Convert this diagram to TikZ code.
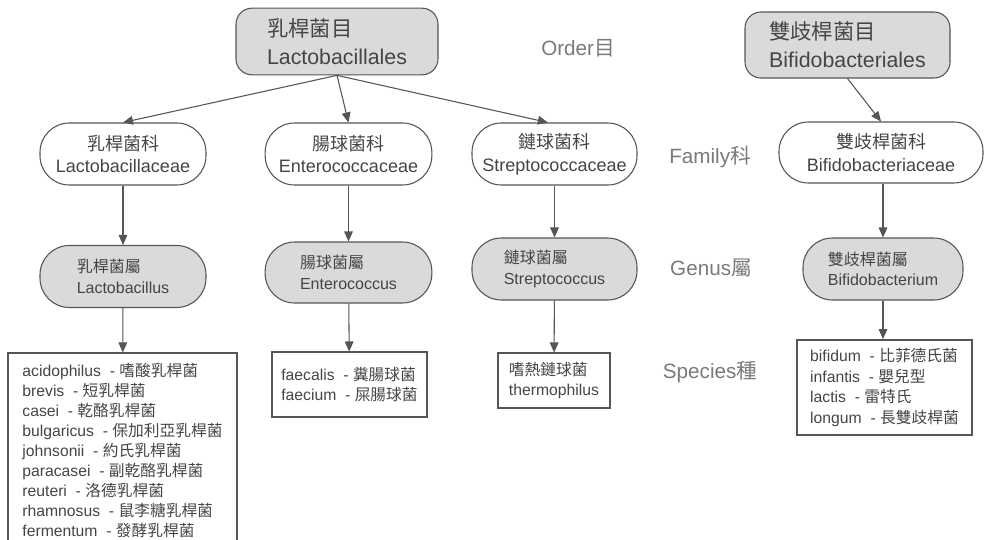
\documentclass[tikz,border=0pt]{standalone}
\usepackage{fontspec}
\setmainfont{Liberation Sans}
\newfontfamily\cjkfont{Noto Sans CJK TC}
\newcommand{\zh}[1]{{\cjkfont #1}}
\usetikzlibrary{arrows.meta}

\definecolor{boxline}{HTML}{555555}
\definecolor{boxfill}{HTML}{DADADA}
\definecolor{txtgray}{HTML}{454545}
\definecolor{lblgray}{HTML}{7A7A7A}

\tikzset{
  ordbox/.style={draw=boxline, fill=boxfill, line width=0.8pt, rounded corners=12pt,
    align=left, text=txtgray, font=\fontsize{16}{21}\selectfont},
  fambox/.style={draw=boxline, fill=white, line width=0.8pt, rounded corners=22pt,
    minimum height=46.5pt, align=center, text=txtgray, font=\fontsize{13.5}{17}\selectfont},
  genbox/.style={fambox, fill=boxfill, align=left, font=\fontsize{12}{15.5}\selectfont},
  spbox/.style={draw=boxline, line width=0.8pt, align=left, text=txtgray,
    font=\fontsize{11.8}{15}\selectfont},
  level/.style={text=lblgray, font=\fontsize{15.5}{18}\selectfont},
  link/.style={draw=boxline, line width=0.8pt, -{Triangle[length=7.5pt, width=6.5pt]}},
}

\begin{document}
\begin{tikzpicture}[x=0.75pt, y=-0.75pt]
\clip (0,0) rectangle (988,539);
\fill[white] (0,0) rectangle (988,539);

% order
\node[ordbox, minimum width=151.5pt, minimum height=50pt] (lactoOrd) at (337,41.5)
  {\zh{乳桿菌目}\\Lactobacillales};
\node[ordbox, minimum width=153.75pt, minimum height=49.5pt] (bifidoOrd) at (847.5,45)
  {\zh{雙歧桿菌目}\\Bifidobacteriales};

% family
\node[fambox, minimum width=124.5pt] (lactoFam) at (123,154) {\zh{乳桿菌科}\\Lactobacillaceae};
\node[fambox, minimum width=125pt] (enteroFam) at (348.5,154) {\zh{腸球菌科}\\Enterococcaceae};
\node[fambox, minimum width=123.75pt] (streptoFam) at (554.5,154) {\zh{鏈球菌科}\\Streptococcaceae};
\node[fambox, minimum width=153pt, minimum height=45.75pt] (bifidoFam) at (881,152.5)
  {\zh{雙歧桿菌科}\\Bifidobacteriaceae};

% genus
\node[genbox, minimum width=124.5pt] (lactoGen) at (123,276.5) {\zh{乳桿菌屬}\\Lactobacillus};
\node[genbox, minimum width=125pt, minimum height=45.75pt] (enteroGen) at (348.5,272.5)
  {\zh{腸球菌屬}\\Enterococcus};
\node[genbox, minimum width=123.75pt] (streptoGen) at (554.5,269) {\zh{鏈球菌屬}\\Streptococcus};
\node[genbox, minimum width=120pt] (bifidoGen) at (883,269) {\zh{雙歧桿菌屬}\\Bifidobacterium};

% species
\node[spbox, line width=1.1pt, minimum width=171.75pt, minimum height=146pt] (lactoSp) at (122.5,450.5)
  {acidophilus \ - \zh{嗜酸乳桿菌}\\
   brevis \ - \zh{短乳桿菌}\\
   casei \ - \zh{乾酪乳桿菌}\\
   bulgaricus \ - \zh{保加利亞乳桿菌}\\
   johnsonii \ - \zh{約氏乳桿菌}\\
   paracasei \ - \zh{副乾酪乳桿菌}\\
   reuteri \ - \zh{洛德乳桿菌}\\
   rhamnosus \ - \zh{鼠李糖乳桿菌}\\
   fermentum \ - \zh{發酵乳桿菌}};
\node[spbox, minimum width=116.25pt, minimum height=48.75pt] (enteroSp) at (349.5,384.5)
  {faecalis \ - \zh{糞腸球菌}\\
   faecium \ - \zh{屎腸球菌}};
\node[spbox, minimum width=84pt, minimum height=41.25pt] (streptoSp) at (554,380.5)
  {\zh{嗜熱鏈球菌}\\thermophilus};
\node[spbox, line width=1.4pt, minimum width=131.25pt, minimum height=71.25pt, font=\fontsize{11.8}{15.3}\selectfont]
  (bifidoSp) at (884.5,387.5)
  {bifidum \ - \zh{比菲德氏菌}\\
   infantis \ - \zh{嬰兒型}\\
   lactis \ - \zh{雷特氏}\\
   longum \ - \zh{長雙歧桿菌}};

% rank labels
\node[level] (ordLbl) at (578,48) {Order\zh{目}};
\node[level] (famLbl) at (710,157) {Family\zh{科}};
\node[level] (genLbl) at (711,268) {Genus\zh{屬}};
\node[level] (spLbl) at (710,372) {Species\zh{種}};

% links
\draw[link] (lactoOrd.south) -- (lactoFam.north);
\draw[link] (lactoOrd.south) -- (enteroFam.north);
\draw[link] (lactoOrd.south) -- ([xshift=-5pt]streptoFam.north);
\draw[link] (bifidoOrd.south) -- (bifidoFam.north);
\draw[link] (lactoFam) -- (lactoGen);
\draw[link] (enteroFam) -- (enteroGen);
\draw[link] (streptoFam) -- (streptoGen);
\draw[link] (bifidoFam.south -| bifidoGen) -- (bifidoGen);
\draw[link] (lactoGen) -- (lactoSp);
\draw[link] (enteroGen) -- (enteroSp);
\draw[link] (streptoGen) -- (streptoSp);
\draw[link] (bifidoGen.south) -- (bifidoGen.south |- bifidoSp.north);
\end{tikzpicture}
\end{document}
